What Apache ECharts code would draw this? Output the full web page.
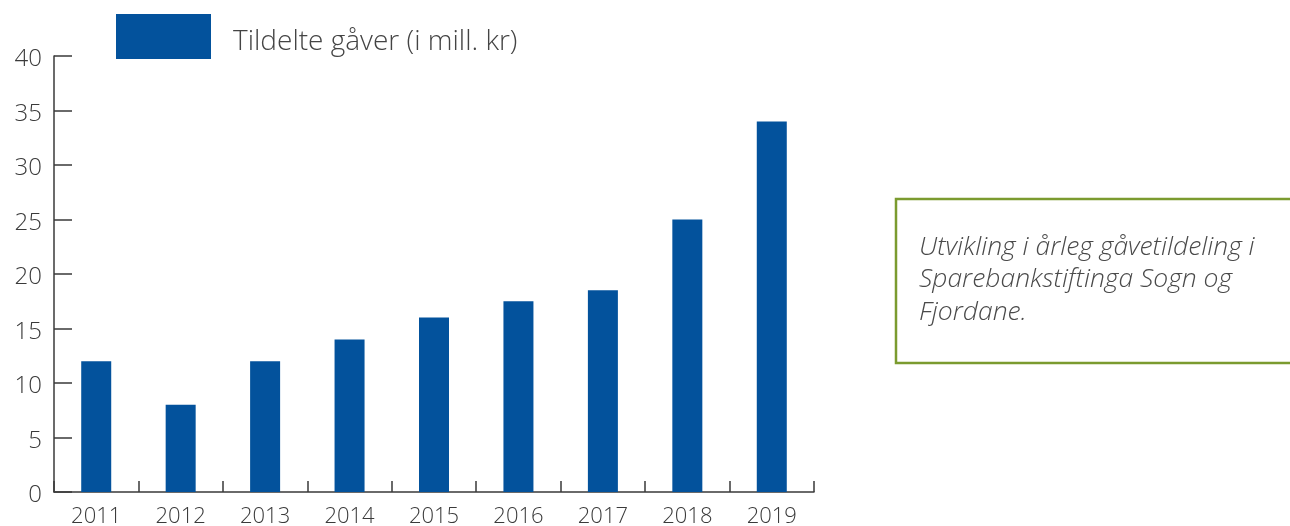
<!DOCTYPE html>
<html>
<head>
<meta charset="utf-8">
<script src="https://cdn.jsdelivr.net/npm/echarts@6/dist/echarts.min.js"></script>
<style>
html,body{margin:0;padding:0;background:#fff;}
#c{width:1290px;height:526px;}
</style>
</head>
<body>
<div id="c"></div>
<script>
const years = ['2011','2012','2013','2014','2015','2016','2017','2018','2019'];
const gifts = [12, 8, 12, 14, 16, 17.5, 18.5, 25, 34];
const seriesName = 'Tildelte gåver (i mill. kr)';
const noteText = 'Utvikling i årleg gåvetildeling i\nSparebankstiftinga Sogn og\nFjordane.';

const axisColor = '#3a3a3a';
const font = '"Open Sans", "Noto Sans", sans-serif';
const chart = echarts.init(document.getElementById('c'), null, {renderer: 'canvas'});
chart.setOption({
  animation: false,
  backgroundColor: '#fff',
  grid: {left: 54, right: 476, top: 56, bottom: 34, containLabel: false, outerBoundsMode: 'none'},
  legend: {
    left: 116, top: 14, padding: 0,
    itemWidth: 95, itemHeight: 45,
    icon: 'rect',
    data: [seriesName],
    formatter: '{t|{name}}',
    textStyle: {
      fontFamily: font, fontSize: 28, color: '#444', fontWeight: 300, padding: [0,0,0,17],
      rich: {t: {fontFamily: font, fontSize: 28, color: '#444', fontWeight: 300, padding: [12,0,0,0]}}
    }
  },
  xAxis: {
    type: 'category',
    data: years,
    boundaryGap: true,
    axisLine: {show: true, lineStyle: {color: axisColor, width: 1.5}},
    axisTick: {show: true, inside: true, length: 11, lineStyle: {color: axisColor, width: 1.5}},
    axisLabel: {fontFamily: font, fontSize: 22, color: '#3a3a3a', margin: 14, fontWeight: 300},
    splitLine: {show: false}
  },
  yAxis: {
    type: 'value',
    min: 0, max: 40, interval: 5,
    axisLine: {show: true, lineStyle: {color: axisColor, width: 1.5}},
    axisTick: {show: true, inside: true, length: 18, lineStyle: {color: axisColor, width: 1.5}},
    axisLabel: {
      fontFamily: font, fontSize: 24, color: '#3a3a3a', margin: 12, fontWeight: 300,
      formatter: '{v|{value}}',
      rich: {v: {fontFamily: font, fontSize: 24, color: '#3a3a3a', fontWeight: 300, padding: [7,0,0,0]}}
    },
    splitLine: {show: false}
  },
  series: [{
    name: seriesName,
    type: 'bar',
    data: gifts,
    barWidth: 30,
    itemStyle: {color: '#03529c'}
  }],
  graphic: [
    {type: 'rect', shape: {x: 896, y: 199, width: 420, height: 164},
     style: {fill: '#fff', stroke: '#7b9b2f', lineWidth: 2.5}},
    {type: 'text', left: 919, top: 231,
     style: {text: noteText, fontFamily: font, fontStyle: 'italic', fontWeight: 300, fontSize: 26.5, lineHeight: 32.5, fill: '#4a4a4a'}}
  ]
});
</script>
</body>
</html>
